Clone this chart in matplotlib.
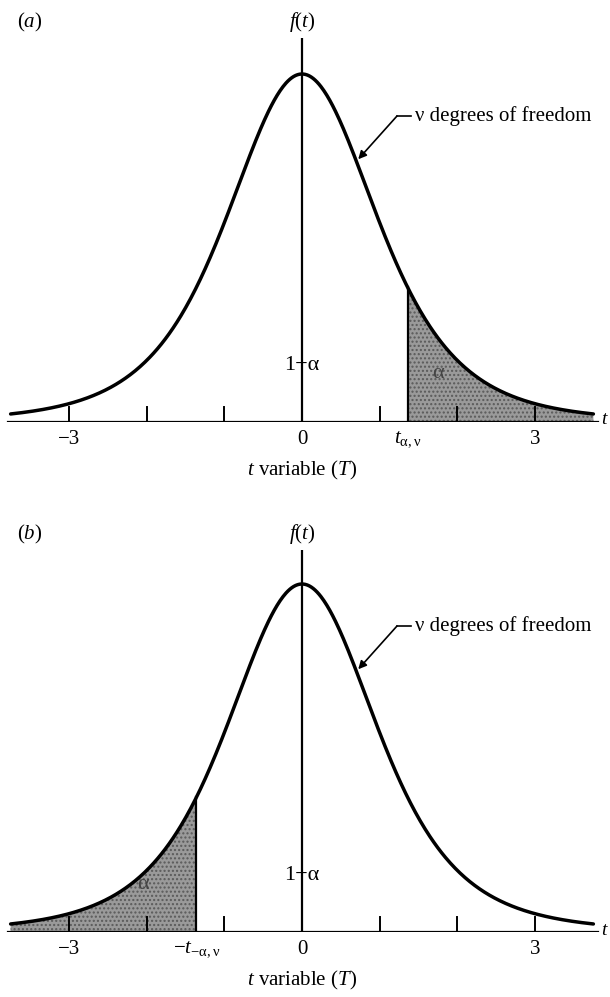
import math
import numpy as np
import matplotlib
matplotlib.use("Agg")
import matplotlib.pyplot as plt

plt.rcParams["font.family"] = ["Liberation Serif", "DejaVu Serif"]
plt.rcParams["mathtext.fontset"] = "custom"
plt.rcParams["mathtext.rm"] = "Liberation Serif"
plt.rcParams["mathtext.it"] = "Liberation Serif:italic"
plt.rcParams["hatch.linewidth"] = 1.0

# t distribution settings
dof = 4
t_crit = 1.36
tick_positions = [-3, -2, -1, 1, 2, 3]
tick_labels_a = {-3: "\u22123", 0: "0", t_crit: r"$t_{\mathrm{\alpha,\nu}}$", 3: "3"}
tick_labels_b = {-3: "\u22123", -t_crit: r"$-t_{\mathrm{-\alpha,\nu}}$", 0: "0", 3: "3"}
curve_range = (-3.75, 3.75)

W, H = 610, 997
PX_PER_UNIT = 77.7
ZERO_X = 302


def t_pdf(t, v):
    c = math.gamma((v + 1) / 2) / (math.sqrt(v * math.pi) * math.gamma(v / 2))
    return c * (1 + t ** 2 / v) ** (-(v + 1) / 2)


f0 = t_pdf(0.0, dof)


def draw_panel(fig, letter, top_px, peak_px, base_px, labels, shade_side):
    ax = fig.add_axes([0, 1 - base_px / H, 1, (base_px - top_px) / H])
    ax.set_xlim(-ZERO_X / PX_PER_UNIT, (W - ZERO_X) / PX_PER_UNIT)
    ymax = f0 * (base_px - top_px) / (base_px - peak_px)
    ax.set_ylim(0, ymax)
    ax.axis("off")
    py = f0 / (base_px - peak_px)  # data units per pixel in y

    t = np.linspace(curve_range[0], curve_range[1], 600)
    y = t_pdf(t, dof)

    # shaded tail, stippled grey
    if shade_side == "right":
        ts = np.linspace(t_crit, curve_range[1], 300)
    else:
        ts = np.linspace(curve_range[0], -t_crit, 300)
    ax.fill_between(ts, 0, t_pdf(ts, dof), facecolor="#9a9a9a",
                    edgecolor="#5a5a5a", hatch="....", lw=0, zorder=1)
    edge = t_crit if shade_side == "right" else -t_crit
    ax.plot([edge, edge], [0, t_pdf(edge, dof)], color="black", lw=1.6, zorder=3)

    ax.plot(t, y, color="black", lw=2.5, solid_capstyle="round", zorder=4)

    # axes lines
    x_left = (8 - ZERO_X) / PX_PER_UNIT
    x_right = (598 - ZERO_X) / PX_PER_UNIT
    ax.plot([x_left, x_right], [0, 0], color="black", lw=1.6, zorder=3)
    ax.plot([0, 0], [0, ymax], color="black", lw=1.6, zorder=3)
    for tk in tick_positions:
        ax.plot([tk, tk], [0, 15 * py], color="black", lw=1.4, zorder=3)

    for pos, lab in labels.items():
        ax.text(pos, -17 * py, lab, ha="center", va="center", fontsize=15)
    ax.text((601 - ZERO_X) / PX_PER_UNIT, 2 * py, r"$t$", ha="left",
            va="center", fontsize=14, clip_on=False)
    ax.text(0, -48 * py, r"$t$ variable $(T)$", ha="center", va="center",
            fontsize=15)
    ax.text(0, ymax + 16 * py, r"$f(t)$", ha="center", va="center", fontsize=15)
    ax.text((17 - ZERO_X) / PX_PER_UNIT, ymax + 16 * py, "(" + r"$%s$" % letter + ")",
            ha="left", va="center", fontsize=15)

    ax.text(0, 57 * py, "1\u2212\u03b1", ha="center", va="center", fontsize=16,
            zorder=5)
    a_x = 1.75 if shade_side == "right" else -2.05
    ax.text(a_x, 48 * py, "\u03b1", ha="center", va="center", fontsize=16,
            color="#444444", zorder=5)

    # degrees-of-freedom callout
    t_arrow = 0.70
    y_lab = f0 - 42 * py
    x_lead = (397 - ZERO_X) / PX_PER_UNIT
    x_text = (415 - ZERO_X) / PX_PER_UNIT
    ax.plot([x_lead, x_text - 0.05], [y_lab, y_lab], color="black", lw=1.2)
    ax.annotate("", xy=(t_arrow, t_pdf(t_arrow, dof)), xytext=(x_lead, y_lab),
                arrowprops=dict(arrowstyle="-|>", color="black", lw=1.2,
                                mutation_scale=12, shrinkA=0, shrinkB=2))
    ax.text(x_text, y_lab, "\u03bd degrees of freedom", ha="left", va="center",
            fontsize=15)
    return ax


fig = plt.figure(figsize=(W / 100, H / 100), dpi=100)
draw_panel(fig, "a", 38, 74, 422, tick_labels_a, "right")
draw_panel(fig, "b", 550, 584, 932, tick_labels_b, "left")
fig.savefig("out.png", dpi=100, facecolor="white")
